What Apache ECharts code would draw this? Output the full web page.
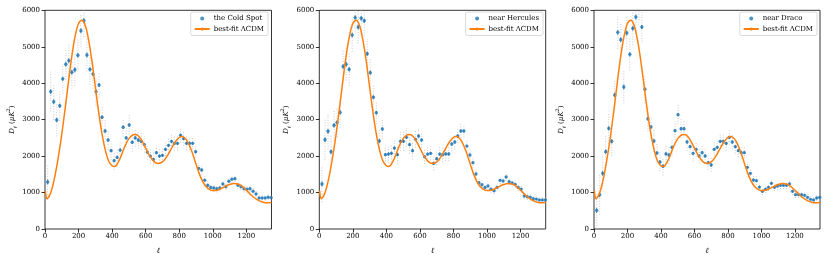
<!DOCTYPE html>
<html><head><meta charset="utf-8">
<script src="https://cdn.jsdelivr.net/npm/echarts@6/dist/echarts.min.js"></script>
<style>html,body{margin:0;padding:0;background:#fff}#c{width:830px;height:260px}</style>
</head><body><div id="c"></div>
<script>
// multipole bin centres
const ell = [16,34,52,70,88,106,124,142,160,178,196,214,232,250,268,286,304,322,340,358,376,394,412,430,448,466,484,502,520,538,556,574,592,610,628,646,664,682,700,718,736,754,772,790,808,826,844,862,880,898,916,934,952,970,988,1006,1024,1042,1060,1078,1096,1114,1132,1150,1168,1186,1204,1222,1240,1258,1276,1294,1312,1330,1348];
const coldSpot = [1290,3770,3490,2990,3380,4120,4520,4620,4300,4370,4765,5440,5715,4775,4380,4250,3770,3950,3065,2690,2440,2150,1875,1965,2165,2790,2500,2855,2380,2500,2440,2405,2315,2110,2000,1910,2095,2000,2020,2185,2295,2405,2350,2350,2570,2480,2350,2350,2350,2120,1660,1620,1340,1200,1140,1125,1105,1125,1235,1160,1310,1365,1380,1200,1160,1105,1090,1105,1035,960,850,850,850,870,860];
const hercules = [1235,2450,2680,2120,2845,2920,3200,4460,4520,4380,5320,5800,5540,5780,5715,4810,4290,3615,3190,2415,2745,2040,2055,2075,2220,2040,2405,2405,2515,2315,2150,2460,2550,2440,1985,2055,2075,1800,1930,2055,2040,2060,2060,2330,2385,2550,2690,2690,2275,2030,1820,1510,1270,1215,1140,1180,1090,1050,1140,1335,1315,1425,1300,1260,1225,1140,1095,905,885,870,830,820,795,795,795];
const draco = [512,942,1527,2122,2762,2405,3676,5395,5195,3896,5377,4792,5505,5816,6150,5542,3832,3027,2798,2414,2085,1840,1720,2060,2030,2240,2698,3137,2752,2752,2387,2259,2076,2185,2003,2094,2003,1820,1756,2185,2240,2405,2405,2350,2515,2387,2259,2149,2094,2094,1692,1527,1344,1326,1150,1033,1088,1143,1253,1143,1180,1198,1198,1198,1235,1033,942,942,942,923,868,814,796,850,868];
// estimated spreads (grey dotted) and error bars (blue)
const errGray = [500,550,500,450,420,400,420,450,450,450,450,450,450,450,420,400,380,350,320,300,280,260,250,240,240,250,260,260,260,250,240,230,220,210,200,200,190,190,190,190,200,200,200,200,200,200,190,180,170,160,150,140,130,120,110,100,100,100,100,100,100,100,100,100,100,100,90,90,90,90,80,80,80,80,80];
const errBlue = [70,70,65,60,60,60,65,65,65,65,65,65,65,65,60,60,55,55,50,50,45,45,45,45,45,45,45,45,45,45,45,40,40,40,40,40,40,40,40,40,40,40,40,40,40,40,40,38,38,35,35,35,32,32,30,30,30,30,30,30,30,30,30,30,30,30,28,28,28,28,25,25,25,25,25];
// best-fit LCDM curve
const theoryEll = [2,6,12,20,30,40,50,60,70,80,90,100,120,140,160,180,200,220,240,260,280,300,320,340,360,380,400,415,430,450,475,500,525,540,560,580,600,625,650,675,700,725,750,775,800,815,830,850,875,900,925,950,975,1000,1025,1050,1075,1100,1125,1150,1175,1200,1225,1250,1275,1300,1325,1350];
const theoryD = [1050,900,830,860,950,1080,1260,1470,1720,1990,2280,2600,3300,4050,4750,5300,5640,5730,5580,5180,4600,3900,3200,2600,2150,1860,1735,1715,1780,1960,2260,2480,2585,2595,2540,2400,2220,2000,1850,1800,1840,1980,2180,2380,2510,2535,2510,2400,2130,1780,1450,1220,1100,1055,1060,1110,1170,1220,1245,1235,1170,1065,950,850,780,735,720,730];
const panelNames = ['the Cold Spot','near Hercules','near Draco'];
const panelData = [coldSpot, hercules, draco];
const fitName = 'best-fit ΛCDM';

const FONT = 'DejaVu Serif';
const FS = 7;
const gridsPx = [
  {left:45, top:10.3, width:226.5, height:218.7},
  {left:319.3, top:10.3, width:226.4, height:218.7},
  {left:594, top:10.3, width:226, height:218.7}
];
const legendRight = [562, 287, 13];

const chart = echarts.init(document.getElementById('c'), null, {renderer:'canvas'});
const grid = [], xAxis = [], yAxis = [], series = [], legend = [];

function errItem(params, api) {
  const x = api.value(0), v = api.value(1), g = api.value(2), b = api.value(3);
  const p0 = api.coord([x, v - g]), p1 = api.coord([x, v + g]);
  const q0 = api.coord([x, v - b]), q1 = api.coord([x, v + b]);
  return {type:'group', children:[
    {type:'line', shape:{x1:p0[0],y1:p0[1],x2:p1[0],y2:p1[1]}, style:{stroke:'#b5b5b5', lineWidth:0.7, lineDash:[1,1.6]}},
    {type:'line', shape:{x1:q0[0],y1:q0[1],x2:q1[0],y2:q1[1]}, style:{stroke:'#1f77b4', lineWidth:0.9}}
  ]};
}
const plain = v => String(v);

for (let k = 0; k < 3; k++) {
  grid.push(Object.assign({show:true, borderColor:'#000', borderWidth:0.8, backgroundColor:'transparent'}, gridsPx[k]));
  xAxis.push({
    type:'value', gridIndex:k, min:0, max:1350, interval:200,
    name:'ℓ', nameLocation:'middle', nameGap:18,
    nameTextStyle:{fontFamily:FONT, fontStyle:'italic', fontSize:8, color:'#000'},
    axisLine:{show:false}, splitLine:{show:false},
    axisTick:{show:true, length:3.5, lineStyle:{color:'#000', width:0.8}},
    axisLabel:{fontFamily:FONT, fontSize:FS, color:'#000', margin:4, showMaxLabel:false, formatter:plain}
  });
  yAxis.push({
    type:'value', gridIndex:k, min:0, max:6000, interval:1000,
    name:'{i|D}{sub|ℓ}{n| (}{i|μK}{sup|2}{n|)}', nameLocation:'middle', nameGap:27,
    nameTextStyle:{fontFamily:FONT, fontSize:FS, color:'#000',
      rich:{
        i:{fontFamily:FONT, fontStyle:'italic', fontSize:FS, lineHeight:12, color:'#000'},
        n:{fontFamily:FONT, fontSize:FS, lineHeight:12, color:'#000'},
        sub:{fontFamily:FONT, fontStyle:'italic', fontSize:5, lineHeight:5, verticalAlign:'bottom', color:'#000'},
        sup:{fontFamily:FONT, fontSize:5, lineHeight:5, verticalAlign:'top', color:'#000'}
      }},
    axisLine:{show:false}, splitLine:{show:false},
    axisTick:{show:true, length:3.5, lineStyle:{color:'#000', width:0.8}},
    axisLabel:{fontFamily:FONT, fontSize:FS, color:'#000', margin:5, formatter:plain}
  });
  const vals = panelData[k];
  series.push({
    type:'custom', name:'err'+k, xAxisIndex:k, yAxisIndex:k, clip:true, z:1,
    renderItem:errItem,
    data: ell.map((l,i)=>[l, vals[i], errGray[i], errBlue[i]])
  });
  series.push({
    type:'scatter', name:panelNames[k], xAxisIndex:k, yAxisIndex:k, clip:true, z:2,
    symbol:'circle', symbolSize:3.4, itemStyle:{color:'#1f77b4'},
    data: ell.map((l,i)=>[l, vals[i]])
  });
  series.push({
    type:'line', name:fitName, xAxisIndex:k, yAxisIndex:k, clip:true, z:3,
    symbol:'none', smooth:0.35, lineStyle:{color:'#ff7f0e', width:1.5}, itemStyle:{color:'#ff7f0e'},
    data: theoryEll.map((l,i)=>[l, theoryD[i]])
  });
  legend.push({
    right:legendRight[k], top:12, orient:'vertical', selectedMode:false,
    data:[{name:panelNames[k], icon:'circle'}, {name:fitName}],
    itemWidth:15, itemHeight:4, itemGap:3.5,
    padding:[3,4,3,3],
    borderColor:'#d0d0d0', borderWidth:0.8, borderRadius:2,
    backgroundColor:'rgba(255,255,255,0.85)',
    textStyle:{fontFamily:FONT, fontSize:FS, color:'#000', padding:[0,0,0,-1]}
  });
}

chart.setOption({animation:false, grid, xAxis, yAxis, series, legend});
</script>
</body></html>
